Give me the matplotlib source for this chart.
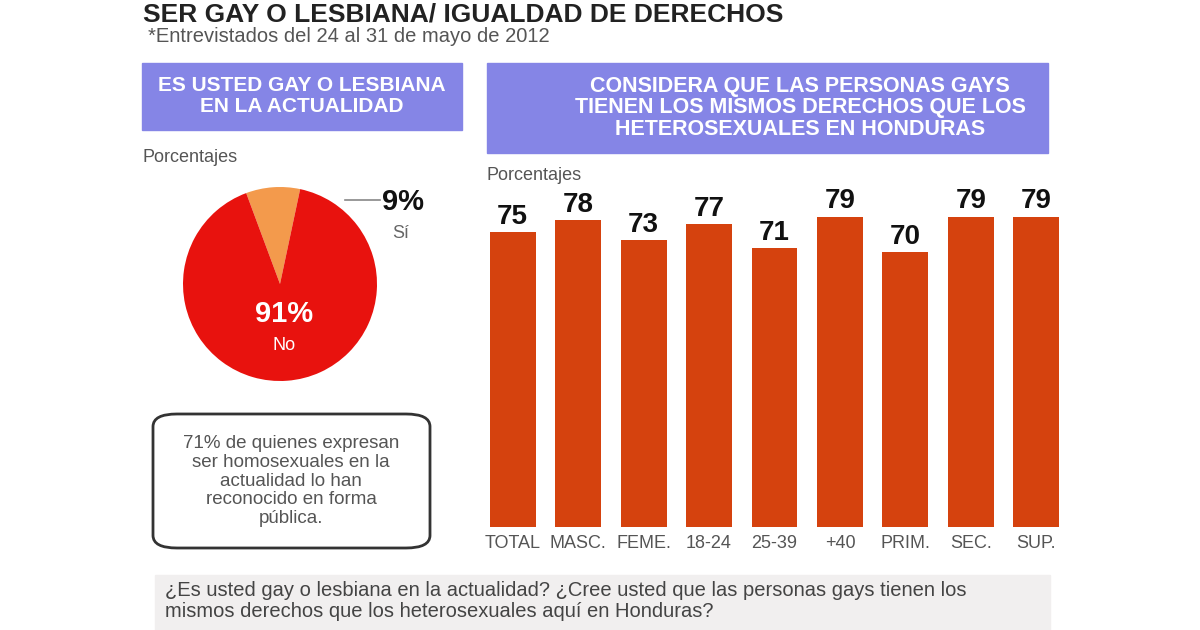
import matplotlib
matplotlib.use("Agg")
import matplotlib.pyplot as plt
from matplotlib.patches import FancyBboxPatch, Rectangle

plt.rcParams['font.family'] = ['Liberation Sans', 'DejaVu Sans']

# Datos
pie_labels = ["Sí", "No"]
pie_values = [9, 91]
categories = ["TOTAL", "MASC.", "FEME.", "18-24", "25-39", "+40", "PRIM.", "SEC.", "SUP."]
values = [75, 78, 73, 77, 71, 79, 70, 79, 79]

W, H = 1200, 630
fig = plt.figure(figsize=(12, 6.3), dpi=100)
fig.patch.set_facecolor("white")


def fx(x):
    return x / W


def fy(y):
    return 1 - y / H


def box(x0, y0, x1, y1, **kw):
    return Rectangle((fx(x0), fy(y1)), fx(x1 - x0), (y1 - y0) / H,
                     transform=fig.transFigure, **kw)


# titulo
fig.text(fx(143), fy(2), "SER GAY O LESBIANA/ IGUALDAD DE DERECHOS",
         fontsize=19, fontweight="bold", color="#222222", va="top")
fig.text(fx(148), fy(37), "*Entrevistados del 24 al 31 de mayo de 2012",
         fontsize=14.5, color="#555555", va="center")

# cabeceras
lav = "#8585e6"
fig.patches.append(box(142, 63, 462, 130, color=lav))
fig.text(fx(302), fy(96), "ES USTED GAY O LESBIANA\nEN LA ACTUALIDAD",
         fontsize=15, fontweight="bold", color="white", ha="center", va="center",
         linespacing=1.1)
fig.patches.append(box(487, 63, 1048, 153, color=lav))
fig.text(fx(800), fy(108),
         "CONSIDERA QUE LAS PERSONAS GAYS\nTIENEN LOS MISMOS DERECHOS QUE LOS\nHETEROSEXUALES EN HONDURAS",
         fontsize=15.5, fontweight="bold", color="white", ha="center", va="center",
         linespacing=1.05)

fig.text(fx(143), fy(157), "Porcentajes", fontsize=13, color="#555555", va="center")
fig.text(fx(487), fy(175), "Porcentajes", fontsize=13, color="#555555", va="center")

# pastel
r = 97
cx, cy = 280, 284
axp = fig.add_axes([fx(cx - r), fy(cy + r), fx(2 * r), 2 * r / H])
axp.pie(pie_values, colors=["#f39a4c", "#e8120e"], startangle=78,
        counterclock=True, radius=1.0, wedgeprops=dict(linewidth=0))
axp.set_xlim(-1, 1)
axp.set_ylim(-1, 1)
axp.set_aspect("equal")
axp.axis("off")

fig.add_artist(plt.Line2D([fx(345), fx(380)], [fy(200), fy(200)],
                          color="#888888", lw=1.2, transform=fig.transFigure))
fig.text(fx(382), fy(202), f"{pie_values[0]}%", fontsize=21, fontweight="bold",
         color="#111111", va="center")
fig.text(fx(392), fy(233), pie_labels[0], fontsize=13, color="#666666", va="center")
fig.text(fx(284), fy(314), f"{pie_values[1]}%", fontsize=21, fontweight="bold",
         color="white", ha="center", va="center")
fig.text(fx(284), fy(345), pie_labels[1], fontsize=13, color="white",
         ha="center", va="center")

# nota
note = FancyBboxPatch((fx(153), fy(548)), fx(430 - 153), (548 - 414) / H,
                      boxstyle="round,pad=0,rounding_size=0.02",
                      transform=fig.transFigure, fc="white", ec="#333333", lw=2)
fig.patches.append(note)
fig.text(fx(291), fy(481),
         "71% de quienes expresan\nser homosexuales en la\nactualidad lo han\nreconocido en forma\npública.",
         fontsize=13.5, color="#555555", ha="center", va="center", linespacing=1.15)

# barras
ax = fig.add_axes([fx(480), fy(527), fx(1069 - 480), (527 - 134) / H])
xs = range(len(categories))
ax.bar(xs, values, width=0.7, color="#d5420e")
for x, v in zip(xs, values):
    ax.text(x, v + 0.6, str(v), ha="center", va="bottom", fontsize=20,
            fontweight="bold", color="#111111")
ax.set_xlim(-0.5, len(categories) - 0.5)
ax.set_ylim(0, 100)
ax.set_xticks(list(xs))
ax.set_xticklabels(categories, fontsize=13, color="#555555")
ax.tick_params(axis="x", length=0, pad=6)
ax.set_yticks([])
for s in ax.spines.values():
    s.set_visible(False)

# pregunta
fig.patches.append(box(155, 575, 1050, 630, color="#f1efef"))
fig.text(fx(165), fy(601),
         "¿Es usted gay o lesbiana en la actualidad? ¿Cree usted que las personas gays tienen los\nmismos derechos que los heterosexuales aquí en Honduras?",
         fontsize=14.5, color="#444444", va="center", linespacing=1.15)

fig.savefig("out.png", dpi=100)
